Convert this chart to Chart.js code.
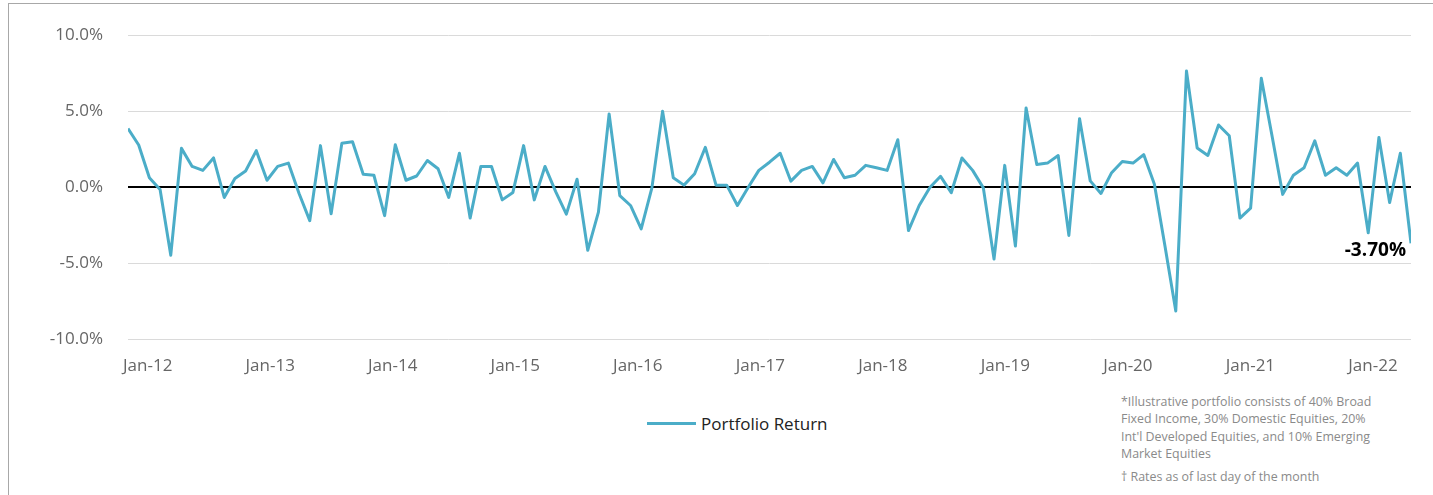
<!DOCTYPE html>
<html>
<head>
<meta charset="utf-8">
<script src="https://cdn.jsdelivr.net/npm/chart.js@4.4.1/dist/chart.umd.min.js"></script>
<style>
    html, body { margin: 0; padding: 0; background: #fff; overflow: hidden; }
    body { width: 1433px; height: 495px; position: relative; font-family: "Open Sans", sans-serif; }
    .frame { position: absolute; left: 8px; top: 3px; width: 1440px; height: 500px; border-left: 1px solid #a8a8a8; border-top: 1px solid #a8a8a8; }
    #returnChart { position: absolute; left: 0; top: 0; }
    .legend { position: absolute; left: 647px; top: 412px; display: flex; align-items: center; font-size: 17px; color: #222; }
    .legend i { display: inline-block; width: 49px; height: 3px; background: #4badc8; margin-right: 5px; }
    .notes { position: absolute; left: 1121px; top: 393px; width: 256px; font-size: 12.4px; line-height: 17.3px; color: #8a8a8a; }
    .notes p { margin: 0; }
    .notes p + p { margin-top: 5.7px; }
</style>
</head>
<body>
<div class="frame"></div>
<canvas id="returnChart" width="1433" height="390"></canvas>
<div class="legend"><i></i><span>Portfolio Return</span></div>
<div class="notes">
    <p>*Illustrative portfolio consists of 40% Broad Fixed Income, 30% Domestic Equities, 20% Int'l Developed Equities, and 10% Emerging Market Equities</p>
    <p>† Rates as of last day of the month</p>
</div>
<script>
// monthly portfolio returns, %
const returns = [
    3.85, 2.77, 0.62, -0.16, -4.48, 2.55, 1.36, 1.10, 1.92, -0.68,
    0.56, 1.06, 2.40, 0.45, 1.36, 1.58, -0.42, -2.21, 2.73, -1.75,
    2.88, 2.99, 0.84, 0.78, -1.88, 2.79, 0.45, 0.73, 1.75, 1.21,
    -0.68, 2.23, -2.04, 1.36, 1.36, -0.84, -0.35, 2.73, -0.84, 1.36,
    -0.30, -1.78, 0.52, -4.16, -1.65, 4.82, -0.56, -1.21, -2.75, -0.05,
    5.00, 0.62, 0.13, 0.88, 2.62, 0.13, 0.13, -1.21, -0.03, 1.10,
    1.64, 2.23, 0.39, 1.10, 1.36, 0.28, 1.82, 0.62, 0.78, 1.43,
    1.27, 1.10, 3.12, -2.86, -1.21, -0.03, 0.71, -0.37, 1.92, 1.10,
    -0.05, -4.74, 1.43, -3.88, 5.21, 1.49, 1.58, 2.08, -3.18, 4.50,
    0.41, -0.42, 0.95, 1.69, 1.58, 2.14, 0.19, -3.92, -8.16, 7.64,
    2.57, 2.08, 4.09, 3.38, -2.04, -1.39, 7.16, 3.38, -0.48, 0.78,
    1.27, 3.05, 0.78, 1.27, 0.78, 1.58, -3.01, 3.27, -1.02, 2.23,
    -3.70
];
const yearLabels = ["Jan-12", "Jan-13", "Jan-14", "Jan-15", "Jan-16", "Jan-17", "Jan-18", "Jan-19", "Jan-20", "Jan-21", "Jan-22"];
const yTicks = [-10, -5, 0, 5, 10];

const lineColor = "#4badc8";
const tickFont = { family: "'Open Sans', sans-serif", size: 17 };
const firstYearTick = 1.84;
const yearTickStep = 11.46;
const canvasHeight = 390;
const plotBottom = 339;

// bold value tag under the latest point
const lastValueLabel = {
    id: "lastValueLabel",
    afterDatasetsDraw(chart) {
        const meta = chart.getDatasetMeta(0);
        const pt = meta.data[meta.data.length - 1];
        const value = returns[returns.length - 1];
        const ctx = chart.ctx;
        ctx.save();
        ctx.font = "bold 19px 'Open Sans', sans-serif";
        ctx.fillStyle = "#000";
        ctx.textAlign = "right";
        ctx.textBaseline = "middle";
        ctx.fillText(`${value.toFixed(2)}%`, pt.x - 5, pt.y + 7);
        ctx.restore();
    }
};

new Chart(document.getElementById("returnChart"), {
    type: "line",
    data: {
        datasets: [{
            label: "Portfolio Return",
            data: returns.map((v, i) => ({ x: i, y: v })),
            borderColor: lineColor,
            borderWidth: 3,
            borderJoinStyle: "round",
            pointRadius: 0,
            tension: 0,
            fill: false
        }]
    },
    options: {
        responsive: false,
        animation: false,
        layout: { padding: { left: 0, right: 22, top: 31, bottom: 0 } },
        plugins: { legend: { display: false }, tooltip: { enabled: false } },
        scales: {
            x: {
                type: "linear",
                min: 0,
                max: returns.length - 1,
                grid: { display: false },
                border: { display: false },
                afterBuildTicks: (scale) => {
                    scale.ticks = yearLabels.map((_, k) => ({ value: firstYearTick + k * yearTickStep }));
                },
                afterFit: (scale) => { scale.height = canvasHeight - plotBottom; },
                ticks: {
                    autoSkip: false,
                    maxRotation: 0,
                    padding: 9,
                    color: "#666",
                    font: tickFont,
                    callback: (value, index) => yearLabels[index]
                }
            },
            y: {
                min: -10,
                max: 10,
                afterBuildTicks: (scale) => { scale.ticks = yTicks.map((v) => ({ value: v })); },
                afterFit: (scale) => { scale.width = 128; },
                border: { display: false },
                grid: {
                    drawTicks: false,
                    color: (ctx) => ctx.tick.value === 0 ? "#000" : "#dadada",
                    lineWidth: (ctx) => ctx.tick.value === 0 ? 2 : 1
                },
                ticks: {
                    padding: 25,
                    color: "#666",
                    font: tickFont,
                    callback: (value) => `${value.toFixed(1)}%`
                }
            }
        }
    },
    plugins: [lastValueLabel]
});
</script>
</body>
</html>
